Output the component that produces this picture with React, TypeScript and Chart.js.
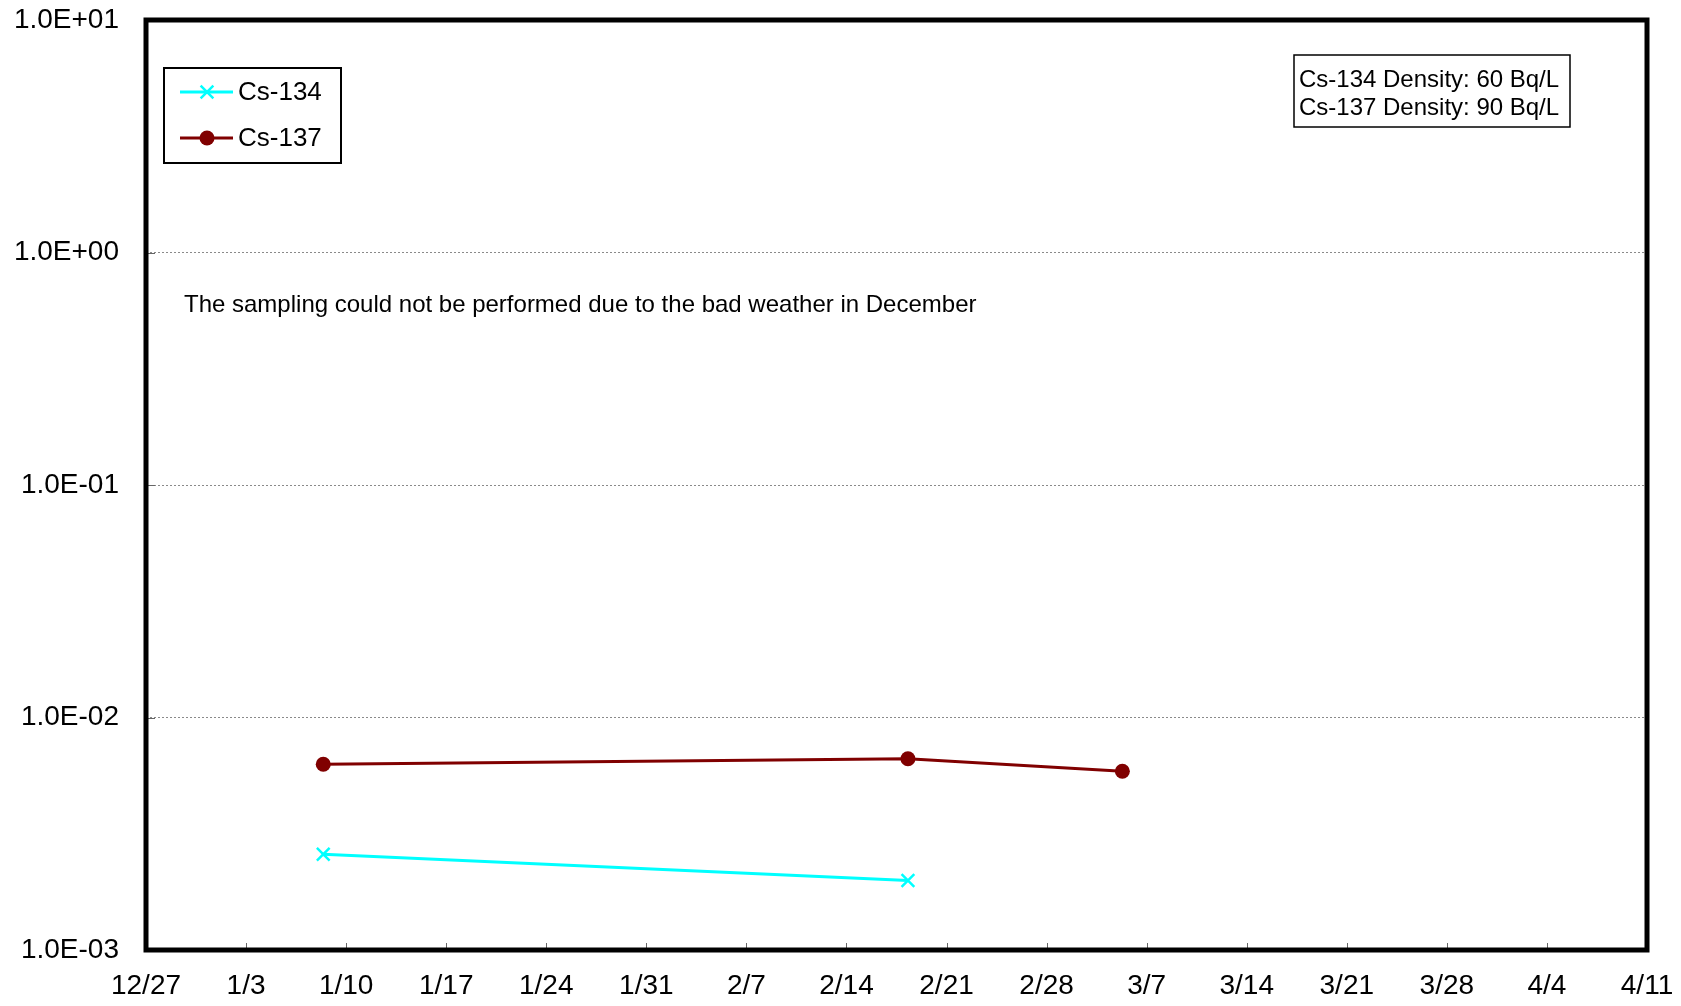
import React, { useEffect, useRef } from "react";
import { Chart, registerables } from "chart.js";

Chart.register(...registerables);

// ---- data ----
const xTickLabels = ["12/27", "1/3", "1/10", "1/17", "1/24", "1/31", "2/7", "2/14", "2/21", "2/28", "3/7", "3/14", "3/21", "3/28", "4/4", "4/11"];
const sampleDays = [12.4, 53.3, 68.3]; // days after 12/27
const cs134 = [0.00258, 0.00199, null];
const cs137 = [0.00629, 0.00665, 0.00587];
const yTickValues = [1e-3, 1e-2, 1e-1, 1, 10];
const yTickLabels = ["1.0E-03", "1.0E-02", "1.0E-01", "1.0E+00", "1.0E+01"];
const seriesNames = ["Cs-134", "Cs-137"];
const densityNotes = ["Cs-134 Density: 60 Bq/L", "Cs-137 Density: 90 Bq/L"];
const noteText = "The sampling could not be performed due to the bad weather in December";

const FONT = "'Liberation Sans', Arial, sans-serif";

function drawMarker(ctx: CanvasRenderingContext2D, style: string, x: number, y: number, r: number, color: string, bw: number) {
  ctx.save();
  ctx.strokeStyle = color;
  ctx.fillStyle = color;
  ctx.lineWidth = bw;
  if (style === "crossRot") {
    const d = r * Math.SQRT1_2;
    ctx.beginPath();
    ctx.moveTo(x - d, y - d);
    ctx.lineTo(x + d, y + d);
    ctx.moveTo(x + d, y - d);
    ctx.lineTo(x - d, y + d);
    ctx.stroke();
  } else {
    ctx.beginPath();
    ctx.arc(x, y, r, 0, Math.PI * 2);
    ctx.fill();
  }
  ctx.restore();
}

const decorPlugin = {
  id: "decor",
  afterDraw(chart: any) {
    const ctx: CanvasRenderingContext2D = chart.ctx;
    const { left, right, top, bottom } = chart.chartArea;
    const xs = chart.scales.x;
    const ys = chart.scales.y;
    ctx.save();
    // inner tick marks
    ctx.strokeStyle = "#666";
    ctx.lineWidth = 1;
    xs.ticks.forEach((t: any, i: number) => {
      const px = Math.round(xs.getPixelForTick(i)) + 0.5;
      if (px <= left + 3 || px >= right - 3) return;
      ctx.beginPath();
      ctx.moveTo(px, bottom);
      ctx.lineTo(px, bottom - 7);
      ctx.stroke();
    });
    ys.ticks.forEach((t: any, i: number) => {
      const py = Math.round(ys.getPixelForTick(i)) + 0.5;
      if (py <= top + 3 || py >= bottom - 3) return;
      ctx.beginPath();
      ctx.moveTo(left, py);
      ctx.lineTo(left + 9, py);
      ctx.stroke();
    });
    // frame
    ctx.strokeStyle = "#000";
    ctx.lineWidth = 5;
    ctx.strokeRect(left, top, right - left, bottom - top);

    // legend
    ctx.fillStyle = "#fff";
    ctx.fillRect(164, 68, 177, 95);
    ctx.strokeStyle = "#000";
    ctx.lineWidth = 2;
    ctx.strokeRect(164, 68, 177, 95);
    chart.data.datasets.forEach((ds: any, i: number) => {
      const y = 92 + i * 46;
      ctx.strokeStyle = ds.borderColor;
      ctx.lineWidth = ds.borderWidth;
      ctx.beginPath();
      ctx.moveTo(180, y);
      ctx.lineTo(233, y);
      ctx.stroke();
      drawMarker(ctx, ds.pointStyle, 207, y, ds.pointRadius, ds.borderColor, ds.pointBorderWidth);
      ctx.fillStyle = "#000";
      ctx.font = `26px ${FONT}`;
      ctx.textBaseline = "middle";
      ctx.textAlign = "left";
      ctx.fillText(ds.label, 238, y + 1);
    });

    // density box
    ctx.fillStyle = "#fff";
    ctx.fillRect(1294, 55, 276, 72);
    ctx.strokeStyle = "#000";
    ctx.lineWidth = 1.5;
    ctx.strokeRect(1294, 55, 276, 72);
    ctx.fillStyle = "#000";
    ctx.font = `24px ${FONT}`;
    ctx.textBaseline = "alphabetic";
    densityNotes.forEach((s, i) => ctx.fillText(s, 1299, 87 + i * 28));

    // note
    ctx.font = `24px ${FONT}`;
    ctx.fillText(noteText, 184, 312);
    ctx.restore();
  },
};

export default function App() {
  const ref = useRef<HTMLCanvasElement | null>(null);
  useEffect(() => {
    if (!ref.current) return;
    const chart = new Chart(ref.current, {
      type: "line",
      data: {
        datasets: [
          {
            label: seriesNames[0],
            data: sampleDays.map((d, i) => ({ x: d, y: cs134[i] })) as any,
            borderColor: "#00FFFF",
            backgroundColor: "#00FFFF",
            borderWidth: 3,
            pointStyle: "crossRot",
            pointRadius: 9,
            pointBorderWidth: 2.5,
            pointHoverRadius: 9,
          },
          {
            label: seriesNames[1],
            data: sampleDays.map((d, i) => ({ x: d, y: cs137[i] })) as any,
            borderColor: "#800000",
            backgroundColor: "#800000",
            borderWidth: 3,
            pointStyle: "circle",
            pointRadius: 7.5,
            pointBorderWidth: 0,
            pointHoverRadius: 7.5,
          },
        ],
      },
      options: {
        animation: false,
        responsive: false,
        devicePixelRatio: 1,
        layout: { padding: { top: 20, right: 34, left: 0, bottom: 0 } },
        plugins: { legend: { display: false }, tooltip: { enabled: false } },
        scales: {
          x: {
            type: "linear",
            min: 0,
            max: 105,
            afterBuildTicks: (s: any) => {
              s.ticks = xTickLabels.map((_, i) => ({ value: i * 7 }));
            },
            afterFit: (s: any) => {
              s.height = 56;
              s.paddingLeft = 0;
              s.paddingRight = 0;
            },
            ticks: {
              autoSkip: false,
              maxRotation: 0,
              padding: 19,
              color: "#000",
              font: { family: FONT, size: 28 },
              callback: (v: any) => xTickLabels[Math.round(Number(v) / 7)] ?? "",
            },
            grid: { display: false, drawTicks: false },
            border: { display: false },
          },
          y: {
            type: "logarithmic",
            min: 1e-3,
            max: 10,
            afterBuildTicks: (s: any) => {
              s.ticks = yTickValues.map((v) => ({ value: v }));
            },
            afterFit: (s: any) => {
              s.width = 146;
              s.paddingTop = 0;
              s.paddingBottom = 0;
            },
            ticks: {
              padding: 27,
              color: "#000",
              font: { family: FONT, size: 28 },
              callback: (v: any) => {
                const idx = yTickValues.findIndex((t) => Math.abs(Math.log10(t) - Math.log10(Number(v))) < 1e-6);
                return idx >= 0 ? yTickLabels[idx] : "";
              },
            },
            grid: { color: "#8a8a8a", lineWidth: 1, drawTicks: false },
            border: { display: false, dash: [2, 2] },
          },
        },
      },
      plugins: [decorPlugin],
    });
    return () => chart.destroy();
  }, []);
  return (
    <div style={{ position: "absolute", left: 0, top: 0, width: 1681, height: 1006, background: "#fff" }}>
      <canvas ref={ref} width={1681} height={1006} style={{ display: "block" }} />
    </div>
  );
}
